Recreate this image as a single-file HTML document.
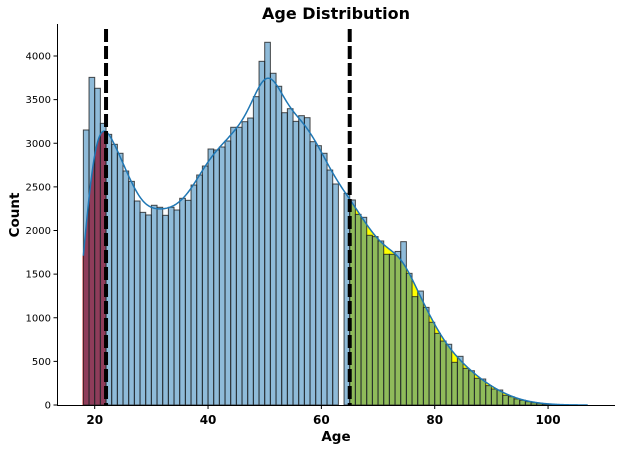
<!DOCTYPE html>
<html><head><meta charset="utf-8"><style>
html,body{margin:0;padding:0;background:#fff;}
svg{display:block;font-family:"DejaVu Sans","Liberation Sans",sans-serif;}
</style></head><body>
<svg id="chart" width="622" height="450" viewBox="0 0 622 450" xmlns="http://www.w3.org/2000/svg">
<text x="336" y="19" text-anchor="middle" font-size="16" font-weight="bold">Age Distribution</text>
<g id="fills"></g><g id="bars"></g><g id="kde"></g><g id="lines"></g><g id="axes"></g>
<text x="336" y="441" text-anchor="middle" font-size="13.5" font-weight="bold">Age</text>
<text transform="translate(19,215) rotate(-90)" text-anchor="middle" font-size="13.5" font-weight="bold">Count</text>
</svg>
<script>
const binStart = 18;
const binWidth = 1;
const counts = [3152,3755,3630,3228,3102,2988,2885,2682,2563,2338,2208,2178,2289,2266,2174,2266,2235,2369,2346,2521,2636,2739,2934,2923,2957,3026,3183,3183,3247,3289,3534,3939,4157,3802,3653,3350,3396,3251,3316,3293,3018,2972,2885,2693,2533,0,2426,2350,2185,2151,1945,1930,1880,1727,1727,1760,1872,1509,1242,1306,1119,948,821,733,696,489,558,420,393,306,298,222,183,172,111,95,69,54,38,26,20,12,8,4,2,1,1,0,0];
const lowerCut = 22;
const upperCut = 65;
const kdeEnd = 107;
const xTicks = [20,40,60,80,100];
const yTicks = [0,500,1000,1500,2000,2500,3000,3500,4000];

const NS = "http://www.w3.org/2000/svg";
const X = v => 94.7 + (v - 20) * 5.667;
const Y = c => 405 - c * 0.08725;
function mk(tag, attrs, parent){const e=document.createElementNS(NS,tag);for(const k in attrs)e.setAttribute(k,attrs[k]);document.getElementById(parent).appendChild(e);return e;}

// KDE from histogram (empty interior bins bridged: they are binning artifacts)
const smoothCounts = counts.map((c,i)=>{if(c===0&&i>0&&i<counts.length-1&&counts[i-1]>0&&counts[i+1]>0)return (counts[i-1]+counts[i+1])/2;return c;});
const sigma = 2.0;
function kde(x){let s=0;for(let i=0;i<smoothCounts.length;i++){const c=binStart+(i+0.5)*binWidth;const d=(x-c)/sigma;s+=smoothCounts[i]*Math.exp(-0.5*d*d);}return s/(sigma*Math.sqrt(2*Math.PI))*binWidth;}
const pts=[];for(let x=binStart;x<=kdeEnd+1e-9;x+=0.1){pts.push([x,kde(x)]);}

function area(a,b,color,name){let d=`M${X(a)},${Y(0)}`;pts.filter(p=>p[0]>=a&&p[0]<=b).forEach(p=>d+=` L${X(p[0]).toFixed(2)},${Y(p[1]).toFixed(2)}`);d+=` L${X(b)},${Y(kde(b))} L${X(b)},${Y(0)} Z`;
const e=mk('path',{d:d,fill:color,stroke:'none'},'fills');

}
area(binStart,lowerCut,'#ff0000','lower-tail-fill');
area(upperCut,kdeEnd,'#ffff00','upper-tail-fill');
mk('line',{x1:X(binStart),y1:Y(0),x2:X(binStart),y2:Y(kde(binStart)),stroke:'#ff0000','stroke-width':1.5},'fills');

counts.forEach((c,i)=>{if(c<=0)return;const x0=X(binStart+i*binWidth),x1=X(binStart+(i+1)*binWidth);
const r=mk('rect',{x:x0,y:Y(c),width:x1-x0,height:Y(0)-Y(c),fill:'rgba(31,119,180,0.5)',stroke:'rgba(30,30,30,0.8)','stroke-width':1},'bars');

});

let d='';pts.forEach((p,i)=>d+=(i?' L':'M')+X(p[0]).toFixed(2)+','+Y(p[1]).toFixed(2));
const k=mk('path',{d:d,fill:'none',stroke:'#1f77b4','stroke-width':1.5},'kde');



[lowerCut,upperCut].forEach(v=>{const l=mk('line',{x1:X(v),x2:X(v),y1:29,y2:405,stroke:'#000','stroke-width':4,'stroke-dasharray':'13,4'},'lines');

});

mk('line',{x1:57.5,y1:24,x2:57.5,y2:405.5,stroke:'#000','stroke-width':1},'axes');
mk('line',{x1:57,y1:405.5,x2:615,y2:405.5,stroke:'#000','stroke-width':1},'axes');
xTicks.forEach(v=>{mk('line',{x1:X(v),x2:X(v),y1:405,y2:409,stroke:'#000'},'axes');
const t=mk('text',{x:X(v),y:424,'text-anchor':'middle','font-size':12,'font-weight':'bold'},'axes');t.textContent=v;

});
yTicks.forEach(v=>{mk('line',{x1:53.5,x2:57.5,y1:Y(v),y2:Y(v),stroke:'#000'},'axes');
const t=mk('text',{x:51,y:Y(v)+3.5,'text-anchor':'end','font-size':10},'axes');t.textContent=v;

});
</script>
</body></html>
